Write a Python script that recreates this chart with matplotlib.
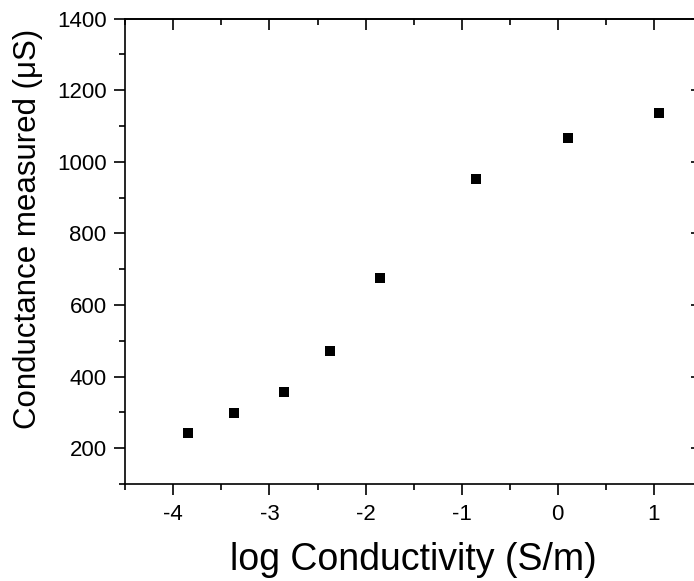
import matplotlib
matplotlib.use("Agg")
import matplotlib.pyplot as plt
from matplotlib.ticker import MultipleLocator

plt.rcParams['font.family'] = ['Liberation Sans', 'DejaVu Sans']
plt.rcParams['axes.unicode_minus'] = False

# valores
log_cond = [-3.85, -3.37, -2.85, -2.37, -1.85, -0.85, 0.11, 1.05]
condutancia = [242, 299, 357, 471, 676, 952, 1067, 1136]

fig = plt.figure(figsize=(6.94, 5.81), dpi=100)
ax = fig.add_axes([0.1805, 0.167, 0.831, 0.801])

ax.plot(log_cond, condutancia, 's', color='black', markersize=6.7, markeredgewidth=0)

ax.set_xlim(-4.5, 1.5)
ax.set_ylim(100, 1400)
ax.xaxis.set_major_locator(MultipleLocator(1))
ax.xaxis.set_minor_locator(MultipleLocator(0.5))
ax.yaxis.set_major_locator(MultipleLocator(200))
ax.yaxis.set_minor_locator(MultipleLocator(100))

for s in ax.spines.values():
    s.set_linewidth(1.2)

ax.tick_params(which='major', direction='out', length=8, width=1.2, labelsize=16)
ax.tick_params(which='minor', direction='out', length=4.5, width=1.2)
ax.tick_params(axis='x', which='major', pad=6.5)
ax.tick_params(axis='y', which='major', pad=5.5)

# eixos espelhados (topo e direita) com ticks para dentro
topo = ax.secondary_xaxis('top')
topo.xaxis.set_major_locator(MultipleLocator(1))
topo.xaxis.set_minor_locator(MultipleLocator(0.5))
topo.tick_params(which='major', direction='in', length=8, width=1.2, labeltop=False)
topo.tick_params(which='minor', direction='in', length=4.5, width=1.2)
topo.spines['top'].set_linewidth(1.2)

direita = ax.secondary_yaxis('right')
direita.yaxis.set_major_locator(MultipleLocator(200))
direita.yaxis.set_minor_locator(MultipleLocator(100))
direita.tick_params(which='major', direction='in', length=8, width=1.2, labelright=False)
direita.tick_params(which='minor', direction='in', length=4.5, width=1.2)
direita.spines['right'].set_linewidth(1.2)

ax.set_xlabel('log Conductivity (S/m)', fontsize=27, labelpad=12)
ax.set_ylabel('Conductance measured (μS)', fontsize=22.5)
ax.yaxis.set_label_coords(-0.142, 0.548)

fig.savefig('out.png', dpi=100)
